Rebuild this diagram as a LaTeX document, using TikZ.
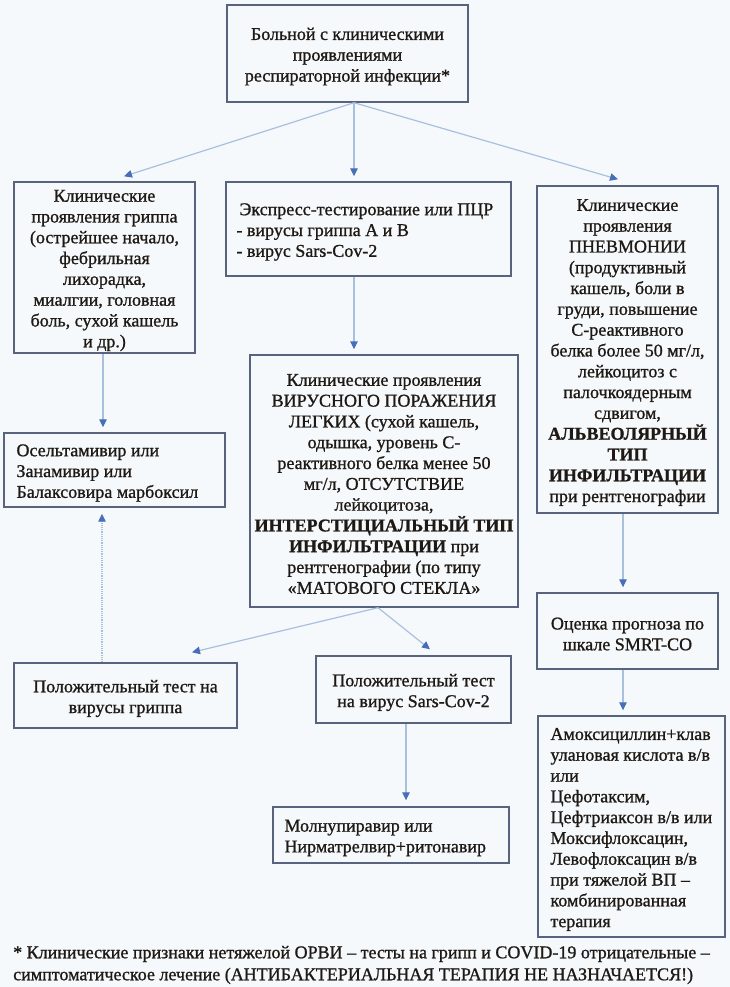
\documentclass[tikz,border=0pt]{standalone}
\usepackage{fontspec}
\setmainfont{Liberation Serif}
\usetikzlibrary{arrows.meta,calc}
\definecolor{bg}{RGB}{246,249,252}
\definecolor{boxline}{RGB}{88,100,126}
\definecolor{lineblue}{RGB}{168,192,222}
\definecolor{headblue}{RGB}{70,110,185}
\definecolor{ink}{RGB}{30,25,20}
\begin{document}
\begin{tikzpicture}[x=1pt,y=-1pt,
  box/.style={draw=boxline, line width=1.4pt, inner sep=0pt},
  txt/.style={font=\fontsize{18}{20.8}\selectfont\addfontfeatures{FakeBold=1}, text=ink, inner sep=0pt, yshift=-3pt},
  conn/.style={draw=lineblue, line width=1.2pt, -{Triangle[length=8pt,width=7.5pt,color=headblue]}},
  dconn/.style={conn, densely dotted}]
\fill[bg] (0,0) rectangle (730,987);
\useasboundingbox (0,0) rectangle (730,987);

% boxes
\node[box, minimum width=241pt, minimum height=97pt] (top) at (347.5,53.5) {};
\node[txt, align=center] at (top.center) {Больной с клиническими\\проявлениями\\респираторной инфекции*};

\node[box, minimum width=181pt, minimum height=171pt] (flu) at (104.5,267.5) {};
\node[txt, align=center] at (flu.center) {Клинические\\проявления гриппа\\(острейшее начало,\\фебрильная\\лихорадка,\\миалгии, головная\\боль, сухой кашель\\и др.)};

\node[box, minimum width=285pt, minimum height=94pt] (exp) at (368.5,229) {};
\node[txt, align=left, anchor=west] at ([xshift=11pt]exp.west) {\hspace*{3pt}Экспресс-тестирование или ПЦР\\- вирусы гриппа А и В\\- вирус Sars-Cov-2};

\node[box, minimum width=181pt, minimum height=327pt] (pneu) at (627.5,349.5) {};
\node[txt, align=center] at (pneu.center) {Клинические\\проявления\\ПНЕВМОНИИ\\(продуктивный\\кашель, боли в\\груди, повышение\\С-реактивного\\белка более 50 мг/л,\\лейкоцитоз с\\палочкоядерным\\сдвигом,\\\textbf{АЛЬВЕОЛЯРНЫЙ}\\\textbf{ТИП}\\\textbf{ИНФИЛЬТРАЦИИ}\\при рентгенографии};

\node[box, minimum width=268pt, minimum height=252pt] (virus) at (384,481) {};
\node[txt, align=center] at (virus.center) {Клинические проявления\\ВИРУСНОГО ПОРАЖЕНИЯ\\ЛЕГКИХ (сухой кашель,\\одышка, уровень С-\\реактивного белка менее 50\\мг/л, ОТСУТСТВИЕ\\лейкоцитоза,\\\textbf{ИНТЕРСТИЦИАЛЬНЫЙ ТИП}\\\textbf{ИНФИЛЬТРАЦИИ} при\\рентгенографии (по типу\\«МАТОВОГО СТЕКЛА»};

\node[box, minimum width=221pt, minimum height=74pt] (osel) at (114.5,470) {};
\node[txt, align=left, anchor=west] at ([xshift=13pt]osel.west) {Осельтамивир или\\Занамивир или\\Балаксовира марбоксил};

\node[box, minimum width=223pt, minimum height=65pt] (fluPos) at (125.5,695.5) {};
\node[txt, align=center] at (fluPos.center) {Положительный тест на\\вирусы гриппа};

\node[box, minimum width=195pt, minimum height=67pt] (covPos) at (413.5,689.5) {};
\node[txt, align=center] at (covPos.center) {Положительный тест\\на вирус Sars-Cov-2};

\node[box, minimum width=181pt, minimum height=76pt] (smrt) at (627.5,631) {};
\node[txt, align=center] at (smrt.center) {Оценка прогноза по\\шкале SMRT-CO};

\node[box, minimum width=187pt, minimum height=221pt] (amox) at (631.5,826.5) {};
\node[txt, align=left, anchor=west] at ([xshift=13pt]amox.west) {Амоксициллин+клав\\улановая кислота в/в\\или\\Цефотаксим,\\Цефтриаксон в/в или\\Моксифлоксацин,\\Левофлоксацин в/в\\при тяжелой ВП –\\комбинированная\\терапия};

\node[box, minimum width=236pt, minimum height=56pt] (molnu) at (391,835) {};
\node[txt, align=left, anchor=west] at ([xshift=12pt]molnu.west) {Молнупиравир или\\Нирматрелвир+ритонавир};

\node[txt, align=left, anchor=west, font=\fontsize{18}{22}\selectfont\addfontfeatures{FakeBold=1}] (note) at (13,962) {* Клинические признаки нетяжелой ОРВИ – тесты на грипп и COVID-19 отрицательные –\\симптоматическое лечение (АНТИБАКТЕРИАЛЬНАЯ ТЕРАПИЯ НЕ НАЗНАЧАЕТСЯ!)};

% connectors
\draw[conn] ([xshift=6.5pt]top.south) -- ([xshift=19.5pt,yshift=5pt]flu.north);
\draw[conn] ([xshift=6.5pt]top.south) -- ([xshift=-14.5pt,yshift=5pt]exp.north);
\draw[conn] ([xshift=6.5pt]top.south) -- ([xshift=-9.5pt,yshift=6pt]pneu.north);
\draw[conn] ([xshift=-14.5pt]exp.south) -- ([xshift=-30pt,yshift=5pt]virus.north);
\draw[conn] ([xshift=-1.5pt]flu.south) -- ([xshift=-11.5pt,yshift=5pt]osel.north);
\draw[dconn] ([xshift=-23.5pt]fluPos.north) -- ([xshift=-12.5pt,yshift=-6pt]osel.south);
\draw[conn] ([xshift=-6pt]virus.south) -- ([xshift=66.5pt,yshift=10pt]fluPos.north);
\draw[conn] ([xshift=-6pt]virus.south) -- ([xshift=16.5pt,yshift=6pt]covPos.north);
\draw[conn] ([xshift=-7.5pt]covPos.south) -- ([xshift=15pt,yshift=6pt]molnu.north);
\draw[conn] ([xshift=-4.5pt]pneu.south) -- ([xshift=-4.5pt,yshift=5pt]smrt.north);
\draw[conn] ([xshift=-4.5pt]smrt.south) -- ([xshift=-8.5pt,yshift=5pt]amox.north);
\end{tikzpicture}
\end{document}
